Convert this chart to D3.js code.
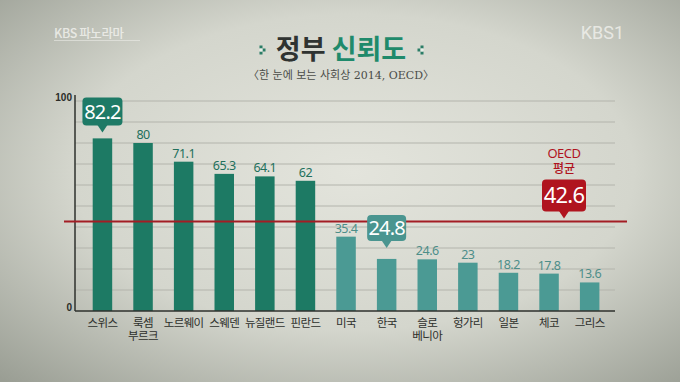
<!DOCTYPE html>
<html>
<head>
<meta charset="utf-8">
<script src="https://cdn.jsdelivr.net/npm/d3@7"></script>
<style>
  html, body { margin: 0; padding: 0; background: #d6d6ce; }
  svg { display: block; }
</style>
</head>
<body>
<svg width="680" height="382"></svg>
<script>
// data
const countries = ["스위스", "룩셈\n부르크", "노르웨이", "스웨덴", "뉴질랜드", "핀란드",
  "미국", "한국", "슬로\n베니아", "헝가리", "일본", "체코", "그리스"];
const trust = [82.2, 80, 71.1, 65.3, 64.1, 62, 35.4, 24.8, 24.6, 23, 18.2, 17.8, 13.6];
const topGroup = 6; // first six bars are the darker green
const oecdAvg = 42.6;
const yTicks = [0, 100];
const gridValues = d3.range(10, 101, 10);

const rows = countries.map((c, i) => ({ name: c, value: trust[i], i: i }));

const svg = d3.select("svg");
const W = 680, H = 382;

// background vignette
const defs = svg.append("defs");
const bg = defs.append("radialGradient").attr("id", "bg")
  .attr("cx", "52%").attr("cy", "45%").attr("r", "75%");
bg.append("stop").attr("offset", "0%").attr("stop-color", "#e3e4dc");
bg.append("stop").attr("offset", "55%").attr("stop-color", "#d4d6cd");
bg.append("stop").attr("offset", "100%").attr("stop-color", "#9a9e94");
svg.append("rect").attr("width", W).attr("height", H).attr("fill", "url(#bg)");

// logos
svg.append("text").attr("x", 54).attr("y", 38)
  .attr("font-family", "Noto Sans CJK KR").attr("font-size", 12.5).attr("font-weight", 500)
  .attr("fill", "#f4f4f0").attr("fill-opacity", 0.8)
  .attr("letter-spacing", -0.4)
  .text("KBS 파노라마");
svg.append("line").attr("x1", 54).attr("x2", 140).attr("y1", 40.5).attr("y2", 40.5)
  .attr("stroke", "#f4f4f0").attr("stroke-opacity", 0.5);
svg.append("text").attr("x", 624).attr("y", 39).attr("text-anchor", "end")
  .attr("font-family", "Roboto").attr("font-size", 18)
  .attr("fill", "#f2f2ee").attr("fill-opacity", 0.8)
  .text("KBS1");

// title
const title = svg.append("text").attr("x", 341).attr("y", 59).attr("text-anchor", "middle")
  .attr("font-family", "Noto Sans CJK KR").attr("font-size", 27).attr("font-weight", 700);
title.append("tspan").attr("fill", "#2f3331").text("정부 ");
title.append("tspan").attr("fill", "#1f8a6b").text("신뢰도");

function diamond(cx, cy, flip) {
  const g = svg.append("g").attr("transform", `translate(${cx},${cy}) scale(${flip ? -1 : 1},1)`);
  const pts = [[-3, -3, "#2a7d66"], [0, 0, "#2a7d66"], [-3, 3, "#2a7d66"], [-3, 0, "#e8f0ea"]];
  pts.forEach(p => g.append("rect").attr("x", p[0] - 1.5).attr("y", p[1] - 1.5)
    .attr("width", 3).attr("height", 3).attr("fill", p[2]));
}
diamond(264, 50, false);
diamond(419, 50, true);

svg.append("text").attr("x", 341).attr("y", 79).attr("text-anchor", "middle")
  .attr("font-family", "DejaVu Serif, Noto Sans CJK KR").attr("font-size", 11)
  .attr("fill", "#4a4c48")
  .text("〈한 눈에 보는 사회상 2014, OECD〉");

// scales
const x = d3.scaleBand().domain(countries).range([72.4, 619.7])
  .paddingInner(0.52).paddingOuter(0.5);
const y = d3.scaleLinear().domain([0, 100]).range([311, 101]);
const cx = d => x(d.name) + x.bandwidth() / 2;

const dark = "#1d7a64", light = "#4b9a94";
const darkText = "#22705c", lightText = "#4d8e89";

// grid
svg.append("g").selectAll("line").data(gridValues).join("line")
  .attr("x1", 75).attr("x2", 615)
  .attr("y1", d => y(d)).attr("y2", d => y(d))
  .attr("stroke", "#b3b4ac").attr("stroke-width", 1);

// axis
const yAxis = svg.append("g").attr("transform", "translate(75,0)")
  .call(d3.axisLeft(y).tickValues(yTicks).tickSize(0).tickPadding(3));
yAxis.select(".domain").attr("stroke", "#2e302c").attr("stroke-width", 1.5)
  .attr("d", `M0,${y(100) - 6}V${y(0)}`);
yAxis.selectAll("text").attr("font-family", "Liberation Sans Narrow, Liberation Sans")
  .attr("font-weight", 700).attr("font-size", 10).attr("fill", "#2a2c28")
  .attr("dy", "-0.1em");

// bars
svg.append("g").selectAll("rect").data(rows).join("rect")
  .attr("x", d => x(d.name))
  .attr("y", d => y(d.value))
  .attr("width", x.bandwidth())
  .attr("height", d => y(0) - y(d.value))
  .attr("fill", d => d.i < topGroup ? dark : light);

// baseline
svg.append("line").attr("x1", 75).attr("x2", 615)
  .attr("y1", y(0)).attr("y2", y(0))
  .attr("stroke", "#2e302c").attr("stroke-width", 1.5);

// value labels (Swiss and Korea get a callout instead)
const calloutIdx = [0, 7];
svg.append("g").selectAll("text").data(rows.filter(d => !calloutIdx.includes(d.i))).join("text")
  .attr("x", cx)
  .attr("y", d => y(d.value) - 4)
  .attr("text-anchor", "middle")
  .attr("font-family", "Noto Sans").attr("font-size", 12.5)
  .attr("letter-spacing", -0.5)
  .attr("fill", d => d.i < topGroup ? darkText : lightText)
  .text(d => d.value);

// category labels
const cat = svg.append("g").selectAll("text").data(rows).join("text")
  .attr("x", cx)
  .attr("y", 327)
  .attr("text-anchor", "middle")
  .attr("font-family", "Noto Sans CJK KR").attr("font-size", 11.5)
  .attr("fill", "#2d2f2b")
  .attr("letter-spacing", -0.6);
cat.each(function (d) {
  d3.select(this).selectAll("tspan").data(d.name.split("\n")).join("tspan")
    .attr("x", cx(d))
    .attr("dy", (t, k) => k ? 12.5 : 0)
    .text(t => t);
});

// OECD average line
svg.append("line").attr("x1", 64).attr("x2", 627)
  .attr("y1", y(oecdAvg)).attr("y2", y(oecdAvg))
  .attr("stroke", "#a31d24").attr("stroke-width", 2);

function callout(px, tipY, w, h, fill, label, size) {
  const g = svg.append("g");
  const top = tipY - 7 - h;
  g.append("rect").attr("x", px - w / 2).attr("y", top).attr("width", w).attr("height", h)
    .attr("rx", 4).attr("fill", fill);
  g.append("path").attr("d", `M${px - 5},${top + h - 0.5}L${px},${tipY}L${px + 5},${top + h - 0.5}Z`)
    .attr("fill", fill);
  g.append("text").attr("x", px).attr("y", top + h / 2 + size * 0.36)
    .attr("text-anchor", "middle").attr("font-family", "Noto Sans")
    .attr("font-size", size).attr("fill", "#ffffff").attr("letter-spacing", -0.8)
    .text(label);
}
callout(cx(rows[0]), y(rows[0].value) - 6, 40, 28, "#1e7a66", rows[0].value, 20);
callout(cx(rows[7]), y(rows[7].value) - 11, 39, 26, "#4a9590", rows[7].value, 20);

// OECD average callout
const oecdX = 564;
callout(oecdX, y(oecdAvg) - 3, 44, 32, "#b0141f", oecdAvg, 22);
svg.append("text").attr("x", oecdX).attr("y", 158).attr("text-anchor", "middle")
  .attr("font-family", "Noto Sans").attr("font-size", 13).attr("fill", "#b0141f")
  .attr("letter-spacing", -0.5).text("OECD");
svg.append("text").attr("x", oecdX).attr("y", 173).attr("text-anchor", "middle")
  .attr("font-family", "Noto Sans CJK KR").attr("font-size", 12).attr("font-weight", 500)
  .attr("fill", "#b0141f").text("평균");
</script>
</body>
</html>
